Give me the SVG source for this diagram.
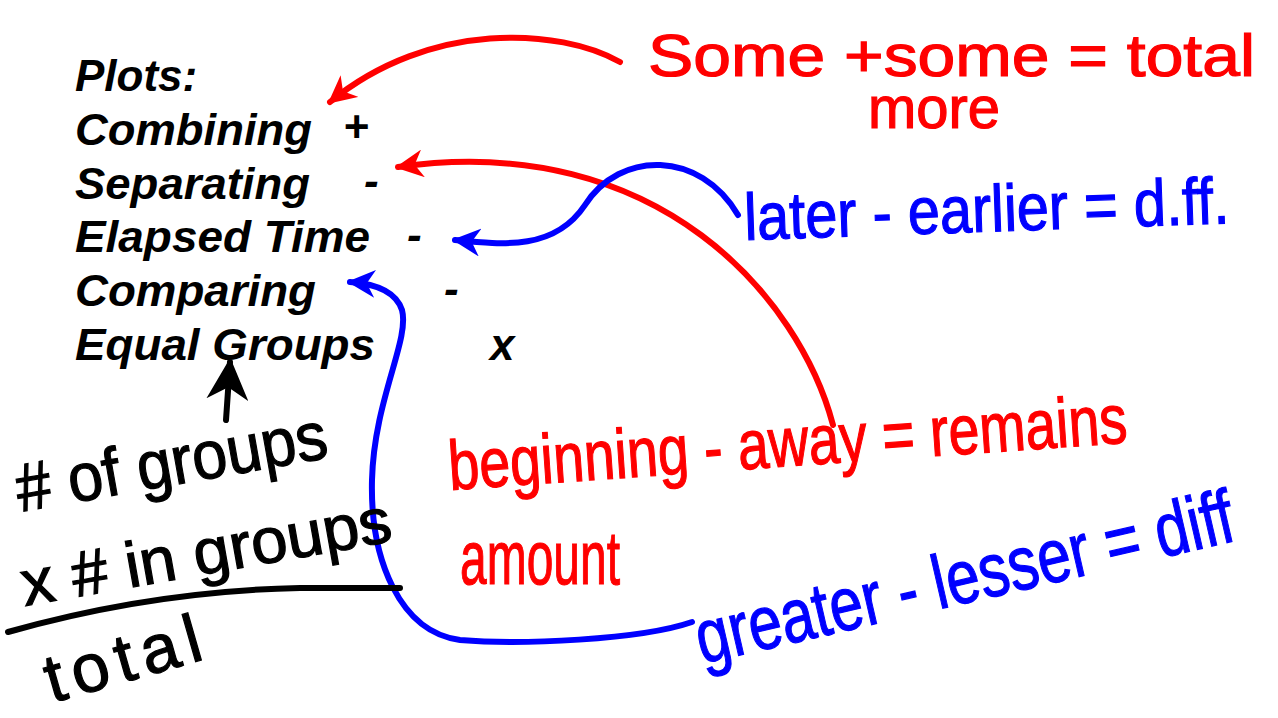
<svg xmlns="http://www.w3.org/2000/svg" width="1278" height="718" viewBox="0 0 1278 718">
<defs>
<style>
.typed{font-family:"Liberation Sans",Arial,sans-serif;font-weight:bold;font-style:italic;font-size:44px;fill:#000}
.hand{font-family:"Liberation Sans Narrow","Liberation Sans",sans-serif;font-weight:normal;stroke-width:1.2}
.red{fill:#ff0000;stroke:#ff0000}
.blue{fill:#0000ff;stroke:#0000ff}
.black{fill:#000;stroke:#000}
.ink{fill:none;stroke-width:6;stroke-linecap:round;stroke-linejoin:round}
</style>
<marker id="hr" viewBox="0 0 10 10" refX="9" refY="5" markerWidth="28" markerHeight="28" markerUnits="userSpaceOnUse" orient="auto"><path d="M0,0 L10,5 L0,10 L3,5 z" fill="#ff0000"/></marker>
<marker id="hb" viewBox="0 0 10 10" refX="9" refY="5" markerWidth="28" markerHeight="28" markerUnits="userSpaceOnUse" orient="auto"><path d="M0,0 L10,5 L0,10 L3,5 z" fill="#0000ff"/></marker>
<marker id="hk" viewBox="0 0 10 10" refX="9" refY="5" markerWidth="42" markerHeight="42" markerUnits="userSpaceOnUse" orient="auto"><path d="M0,0 L10,5 L0,10 L3,5 z" fill="#000"/></marker>
</defs>
<rect width="1278" height="718" fill="#fff"/>
<g id="list">
<text class="typed" x="75" y="91">Plots:</text>
<text class="typed" x="75" y="145" textLength="237" lengthAdjust="spacingAndGlyphs">Combining</text>
<text class="typed" x="343" y="142">+</text>
<text class="typed" x="75" y="199" textLength="235" lengthAdjust="spacingAndGlyphs">Separating</text>
<text class="typed" x="364" y="196">-</text>
<text class="typed" x="75" y="252" textLength="295" lengthAdjust="spacingAndGlyphs">Elapsed Time</text>
<text class="typed" x="407" y="250">-</text>
<text class="typed" x="75" y="306" textLength="241" lengthAdjust="spacingAndGlyphs">Comparing</text>
<text class="typed" x="444" y="304">-</text>
<text class="typed" x="75" y="360" textLength="300" lengthAdjust="spacingAndGlyphs">Equal Groups</text>
<text class="typed" x="490" y="360">x</text>
</g>
<g id="connectors">
<path class="ink" stroke="#ff0000" d="M620 62 C560 28 430 20 330 102" marker-end="url(#hr)"/>
<path class="ink" stroke="#ff0000" d="M833 425 C800 300 660 130 398 167" marker-end="url(#hr)"/>
<path class="ink" stroke="#0000ff" d="M738 215 C700 150 620 150 585 205 C555 250 505 245 455 240" marker-end="url(#hb)"/>
<path class="ink" stroke="#0000ff" d="M692 622 C640 640 520 645 460 640 C400 632 370 560 372 480 C374 400 410 340 402 310 C396 292 378 284 350 282" marker-end="url(#hb)"/>
<path class="ink" stroke="#000" d="M226 420 L230 362" marker-end="url(#hk)"/>
<path class="ink" stroke="#000" d="M8 632 C100 606 200 590 300 588 L400 588"/>
</g>
<g id="red-notes">
<text class="hand red" x="648" y="76" font-size="60" textLength="607" lengthAdjust="spacingAndGlyphs">Some +some = total</text>
<text class="hand red" x="868" y="128" font-size="60" textLength="132" lengthAdjust="spacingAndGlyphs">more</text>
<text class="hand red" x="450" y="490" font-size="70" textLength="680" lengthAdjust="spacingAndGlyphs" transform="rotate(-4 450 490)">beginning - away = remains</text>
<text class="hand red" x="460" y="584" font-size="76" textLength="160" lengthAdjust="spacingAndGlyphs">amount</text>
</g>
<g id="blue-notes">
<text class="hand blue" x="745" y="240" font-size="66" textLength="485" lengthAdjust="spacingAndGlyphs" transform="rotate(-2 745 240)">later - earlier = d.ff.</text>
<text class="hand blue" x="702" y="664" font-size="76" textLength="550" lengthAdjust="spacingAndGlyphs" transform="rotate(-13 702 664)">greater - lesser = diff</text>
</g>
<g id="black-notes">
<text class="hand black" x="20" y="512" font-size="68" textLength="315" lengthAdjust="spacingAndGlyphs" transform="rotate(-10 20 512)"># of groups</text>
<text class="hand black" x="25" y="606" font-size="64" textLength="375" lengthAdjust="spacingAndGlyphs" transform="rotate(-10 25 606)">x # in groups</text>
<text class="hand black" x="52" y="703" font-size="68" textLength="160" lengthAdjust="spacing" transform="rotate(-16 52 703)">total</text>
</g>
</svg>
